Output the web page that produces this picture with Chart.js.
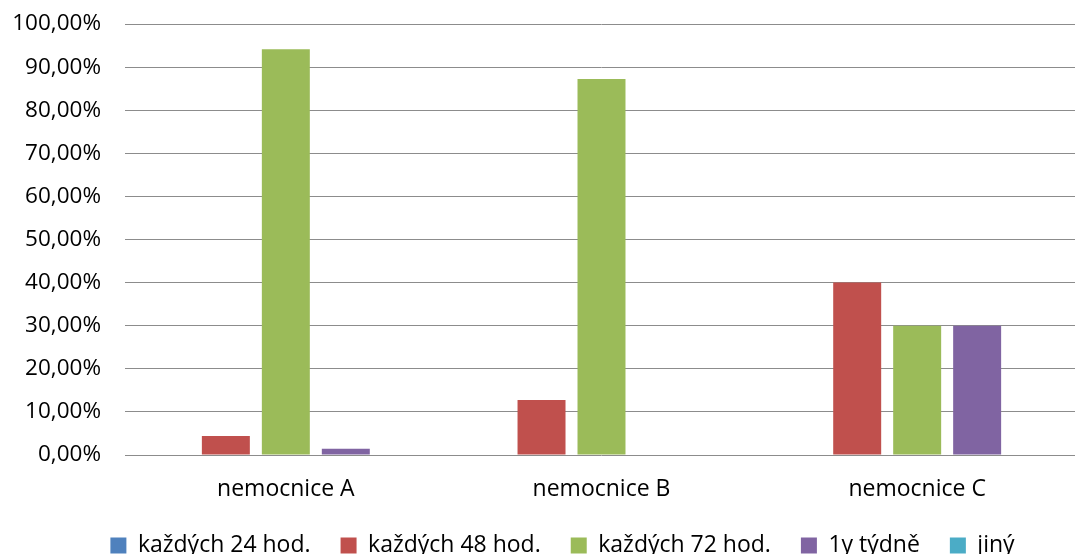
<!DOCTYPE html>
<html lang="cs">
<head>
    <meta charset="UTF-8">
    <title>Frekvence</title>
    <style>
        body { margin: 0; background: #fff; }
        .wrap { position: relative; width: 1085px; height: 556px; }
    </style>
</head>
<body>
    <div class="wrap">
        <canvas id="chart"></canvas>
    </div>

    <script src="https://cdn.jsdelivr.net/npm/chart.js@4.4.1/dist/chart.umd.min.js"></script>
    <script>
        // Data
        const categories = ['nemocnice A', 'nemocnice B', 'nemocnice C'];
        const seriesNames = ['každých 24 hod.', 'každých 48 hod.', 'každých 72 hod.', '1y týdně', 'jiný'];
        const every24 = [0, 0, 0];
        const every48 = [4.41, 12.77, 40.0];
        const every72 = [94.12, 87.23, 30.0];
        const weekly = [1.47, 0, 30.0];
        const other = [0, 0, 0];
        const yTicks = [0, 10, 20, 30, 40, 50, 60, 70, 80, 90, 100];

        const colors = ['#4F81BD', '#C0504D', '#9BBB59', '#8064A2', '#4BACC6'];
        const values = [every24, every48, every72, weekly, other];

        const font = "'Open Sans', 'Liberation Sans', sans-serif";
        const legendReserve = 50;   // height the legend takes in the layout
        const legendShiftY = -2;
        const legendShiftX = 25;

        // legend keeps wide item spacing but reserves less height, then gets nudged into place
        const legendNudge = {
            id: 'legendNudge',
            afterInit(chart) {
                const lg = chart.legend;
                const fit = lg.fit;
                lg.fit = function () {
                    fit.call(this);
                    this.height = legendReserve;
                };
            },
            afterLayout(chart) {
                chart.legend.top += legendShiftY;
                chart.legend.bottom += legendShiftY;
                chart.legend.left += legendShiftX;
                chart.legend.right += legendShiftX;
            }
        };

        new Chart(document.getElementById('chart'), {
            type: 'bar',
            data: {
                labels: categories,
                datasets: seriesNames.map((name, i) => ({
                    label: name,
                    data: values[i],
                    backgroundColor: colors[i],
                    borderWidth: 0,
                    categoryPercentage: 0.95,
                    barPercentage: 0.8
                }))
            },
            options: {
                responsive: true,
                maintainAspectRatio: false,
                animation: false,
                layout: { padding: { top: 0, right: 10, left: 0, bottom: 0 } },
                plugins: {
                    tooltip: { enabled: false },
                    legend: {
                        position: 'bottom',
                        labels: {
                            color: '#000',
                            font: { family: font, size: 23 },
                            boxWidth: 16,
                            boxHeight: 16,
                            padding: 30
                        }
                    }
                },
                scales: {
                    x: {
                        grid: { display: false },
                        border: { display: false },
                        afterFit: s => { s.height = 556 - 455 - legendReserve; },
                        ticks: { color: '#000', font: { family: font, size: 23 }, padding: 13 }
                    },
                    y: {
                        min: 0,
                        max: 100,
                        afterBuildTicks: s => { s.ticks = yTicks.map(v => ({ value: v })); },
                        afterFit: s => { s.width = 128; s.paddingTop = 24; },
                        grid: { color: '#8c8c8c', lineWidth: 1, tickLength: 3 },
                        border: { display: false },
                        ticks: {
                            color: '#000',
                            font: { family: font, size: 22.5 },
                            padding: 24,
                            callback: v => v.toFixed(2).replace('.', ',') + '%'
                        }
                    }
                }
            },
            plugins: [legendNudge]
        });
    </script>
</body>
</html>
